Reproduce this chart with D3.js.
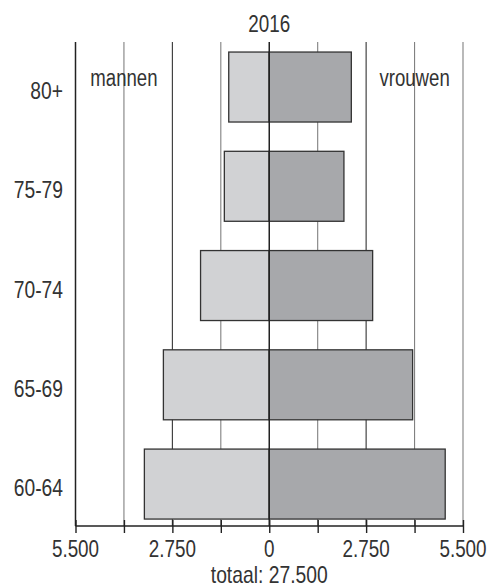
<!DOCTYPE html>
<html><head><meta charset="utf-8">
<script src="https://cdn.jsdelivr.net/npm/d3@7"></script>
<style>html,body{margin:0;padding:0;background:#fff;}</style>
</head><body>
<svg id="c" width="495" height="588"></svg>
<script>
const ages = ["80+", "75-79", "70-74", "65-69", "60-64"];
const men = [1150, 1275, 1950, 3005, 3545];
const women = [2330, 2120, 2935, 4070, 4995];
const tickValues = [-5500, -2750, 0, 2750, 5500];
const tickLabels = ["5.500", "2.750", "0", "2.750", "5.500"];
const gridValues = [-5500, -4125, -2750, -1375, 0, 1375, 2750, 4125, 5500];
const title = "2016";
const footer = "totaal: 27.500";

const FONT = "'Liberation Sans', Arial, sans-serif";
const svg = d3.select("#c");
const x = d3.scaleLinear().domain([-5500, 5500]).range([75.5, 463]);
const y = d3.scaleBand().domain(ages).range([37.4, 533.7]).paddingInner(0.295).paddingOuter(0.1475);
const plotTop = 42, plotBase = 526;

function label(sel, px, py, size, anchor, sx) {
  return sel.attr("transform", `translate(${px},${py}) scale(${sx},1)`)
    .attr("text-anchor", anchor).attr("font-family", FONT).attr("font-size", size)
    .attr("fill", "#333");
}

// gridlines
svg.append("g").selectAll("line").data(gridValues.filter(v => v !== 0 && v !== -5500)).join("line")
  .attr("x1", d => x(d)).attr("x2", d => x(d)).attr("y1", plotTop).attr("y2", plotBase)
  .attr("stroke", d => (Math.abs(d) === 2750) ? "#333" : "#808080")
  .attr("stroke-width", 1.1);

// left axis line
svg.append("line").attr("x1", x(-5500)).attr("x2", x(-5500)).attr("y1", plotTop).attr("y2", plotBase)
  .attr("stroke", "#222").attr("stroke-width", 1.5);

// bars
const rows = ages.map((a, i) => ({age: a, m: men[i], w: women[i]}));
svg.append("g").selectAll("rect").data(rows).join("rect")
  .attr("x", d => x(-d.m)).attr("width", d => x(0) - x(-d.m))
  .attr("y", d => y(d.age)).attr("height", y.bandwidth())
  .attr("fill", "#d1d2d4").attr("stroke", "#333").attr("stroke-width", 1.3);
svg.append("g").selectAll("rect").data(rows).join("rect")
  .attr("x", x(0)).attr("width", d => x(d.w) - x(0))
  .attr("y", d => y(d.age)).attr("height", y.bandwidth())
  .attr("fill", "#a7a8ab").attr("stroke", "#333").attr("stroke-width", 1.3);

// center line
svg.append("line").attr("x1", x(0)).attr("x2", x(0)).attr("y1", plotTop).attr("y2", plotBase)
  .attr("stroke", "#222").attr("stroke-width", 1.5);

// x axis
const axis = d3.axisBottom(x).tickValues(gridValues).tickSize(7).tickFormat("");
const ag = svg.append("g").attr("transform", `translate(0,${plotBase})`).call(axis);
ag.select(".domain").attr("stroke", "#222").attr("stroke-width", 1.6).attr("d", `M${x(-5500)},0H${x(5500)}`);
ag.selectAll(".tick line").attr("stroke", "#222").attr("stroke-width", 1.4).attr("y1", -6);

svg.append("g").selectAll("text").data(tickValues).join("text")
  .each(function (d, i) { label(d3.select(this), x(d), 556.5, 23, "middle", 0.82).text(tickLabels[i]); });

// age labels
svg.append("g").selectAll("text").data(ages).join("text")
  .each(function (d) { label(d3.select(this), 63, y(d) + y.bandwidth() / 2 + 12, 23.5, "end", 0.82).text(d); });

// titles
label(svg.append("text"), x(0), 32, 23, "middle", 0.82).text(title);
label(svg.append("text"), x(-4125), 86, 24.5, "middle", 0.76).text("mannen");
label(svg.append("text"), x(4125), 86, 24.5, "middle", 0.76).text("vrouwen");
label(svg.append("text"), x(0), 583, 23, "middle", 0.84).text(footer);
</script>
</body></html>
